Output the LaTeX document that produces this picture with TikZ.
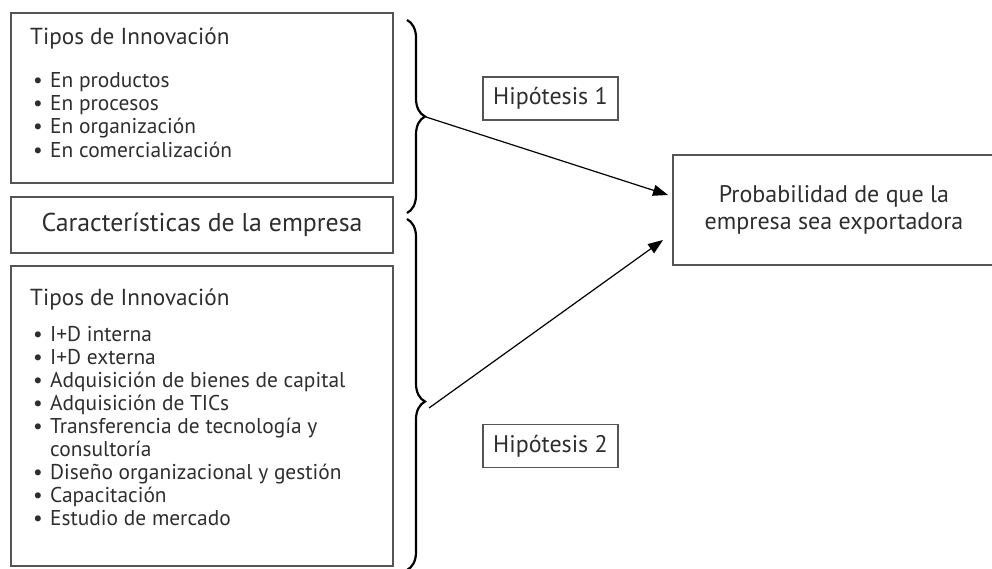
\documentclass[tikz,border=0pt]{standalone}
\usepackage{fontspec}
\setmainfont{PT Sans}
\usetikzlibrary{arrows.meta,decorations.pathreplacing}
\definecolor{ink}{HTML}{2E2E2E}
\definecolor{frame}{HTML}{555555}
\begin{document}
\begin{tikzpicture}[x=1pt,y=-1pt,
  panel/.style={draw=frame,line width=1.4pt,inner sep=0pt},
  label/.style={panel,text=ink,font=\fontsize{24}{27}\selectfont,align=center},
  head/.style={inner sep=0pt,anchor=base west,text=ink,font=\fontsize{23.2}{23}\selectfont},
  line/.style={inner sep=0pt,anchor=base west,text=ink,font=\fontsize{21.4}{23}\selectfont},
  dot/.style={inner sep=0pt,anchor=base,text=ink,font=\fontsize{21.4}{23}\selectfont},
  curly/.style={decorate,decoration={brace,amplitude=18pt},line width=2.2pt,black},
  link/.style={line width=1.2pt,black,-{Triangle[length=15pt,width=11pt]}}
]
\useasboundingbox (0,0) rectangle (992,568);

% left column panels
\node[panel,minimum width=382pt,minimum height=170pt] (prod) at (202,98) {};
\node[label,font=\fontsize{25.8}{27}\selectfont,minimum width=382pt,minimum height=56pt] (firm) at (202,225) {Características de la empresa};
\node[panel,minimum width=382pt,minimum height=300pt] (act) at (202,416) {};

% innovation outcomes
\node[head] (prodT) at (30,44) {Tipos de Innovación};
\node[dot] (pb1) at (38,87) {•};   \node[line] (p1) at (50,87) {En productos};
\node[dot] (pb2) at (38,110) {•};  \node[line] (p2) at (50,110) {En procesos};
\node[dot] (pb3) at (38,133.5) {•};\node[line] (p3) at (50,133.5) {En organización};
\node[dot] (pb4) at (38,157) {•};  \node[line] (p4) at (50,157) {En comercialización};

% innovation activities
\node[head] (actT) at (30,305) {Tipos de Innovación};
\node[dot] (ab1) at (38,341) {•};   \node[line] (a1) at (50,341) {I+D interna};
\node[dot] (ab2) at (38,364) {•};   \node[line] (a2) at (50,364) {I+D externa};
\node[dot] (ab3) at (38,387) {•};   \node[line] (a3) at (50,387) {Adquisición de bienes de capital};
\node[dot] (ab4) at (38,410) {•};   \node[line] (a4) at (50,410) {Adquisición de TICs};
\node[dot] (ab5) at (38,433) {•};   \node[line] (a5) at (50,433) {Transferencia de tecnología y};
                                    \node[line] (a5b) at (50,456) {consultoría};
\node[dot] (ab6) at (38,479) {•};   \node[line] (a6) at (50,479) {Diseño organizacional y gestión};
\node[dot] (ab7) at (38,502) {•};   \node[line] (a7) at (50,502) {Capacitación};
\node[dot] (ab8) at (38,525) {•};   \node[line] (a8) at (50,525) {Estudio de mercado};

% hypotheses and outcome
\node[label,minimum width=135pt,minimum height=43pt] (h1) at (550.5,98.5) {Hipótesis 1};
\node[label,minimum width=135pt,minimum height=43pt] (h2) at (550.5,446) {Hipótesis 2};
\node[label,minimum width=322pt,minimum height=110pt] (prob) at (834,210)
  {Probabilidad de que la\\empresa sea exportadora};

% braces grouping the left column
\coordinate (bAtop) at (407,20);  \coordinate (bAbot) at (407,213);
\coordinate (bBtop) at (407,219); \coordinate (bBbot) at (407,570);
\draw[curly] (bAtop) -- (bAbot);
\draw[curly,decoration={aspect=0.52}] (bBtop) -- (bBbot);

% arrows towards the outcome
\coordinate (tipA) at (426,117);
\coordinate (tipB) at (429,408);
\coordinate (endA) at (668,195);
\coordinate (endB) at (663,240);
\draw[link] (tipA) -- (endA);
\draw[link] (tipB) -- (endB);
\end{tikzpicture}
\end{document}
